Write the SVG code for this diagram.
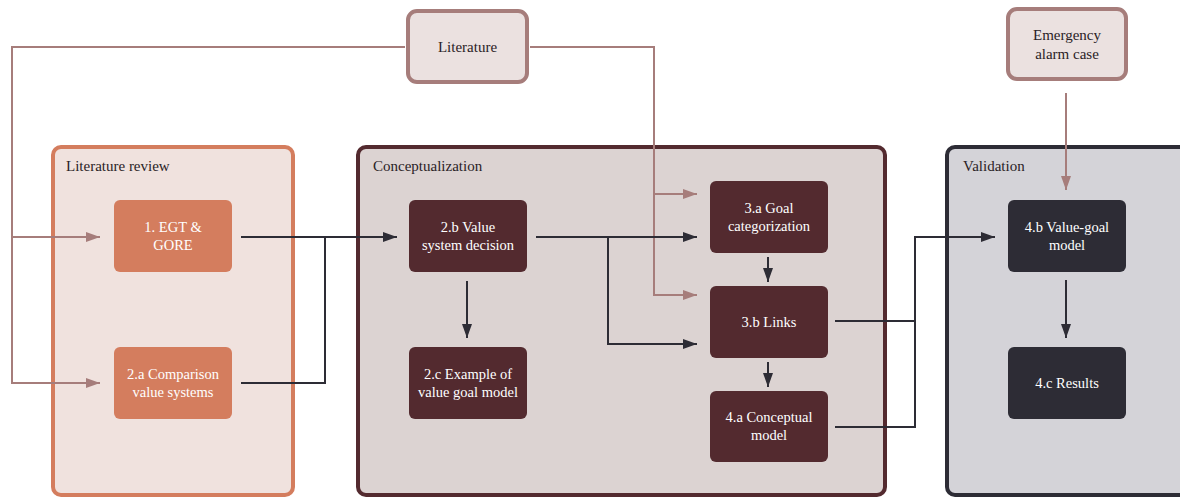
<svg xmlns="http://www.w3.org/2000/svg" width="1180" height="497" viewBox="0 0 1180 497">
  <style>
    .title { font-family: "Liberation Serif", serif; font-size: 15px; fill: #2a2226; }
    .srct { font-family: "Liberation Serif", serif; font-size: 15px; fill: #2a2226; text-anchor: middle; }
    .nt { font-family: "Liberation Serif", serif; font-size: 14.5px; fill: #ffffff; text-anchor: middle; }
    .src { fill: #ebe1e0; stroke: #a67d7b; stroke-width: 4; }
    .n1 { fill: #d47d5e; }
    .n2 { fill: #532a2f; }
    .n3 { fill: #2d2c35; }
    .pk { fill: none; stroke: #a67d7b; stroke-width: 2; }
    .dk { fill: none; stroke: #2d2c35; stroke-width: 2; }
  </style>
  <defs>
    <marker id="ap" markerUnits="userSpaceOnUse" markerWidth="14" markerHeight="10" refX="14" refY="5" orient="auto">
      <path d="M0,0 L14,5 L0,10 z" fill="#a67d7b"/>
    </marker>
    <marker id="ad" markerUnits="userSpaceOnUse" markerWidth="14" markerHeight="10" refX="14" refY="5" orient="auto">
      <path d="M0,0 L14,5 L0,10 z" fill="#2d2c35"/>
    </marker>
  </defs>

  <rect width="1180" height="497" fill="#ffffff"/>

  <!-- phase containers -->
  <g id="phase-literature-review">
    <rect x="53" y="147" width="240" height="348" rx="8" fill="#f0e2de" stroke="#d47d5e" stroke-width="4"/>
    <text class="title" x="66" y="171">Literature review</text>
  </g>
  <g id="phase-conceptualization">
    <rect x="358" y="147" width="527" height="348" rx="8" fill="#dcd3d2" stroke="#532a2f" stroke-width="4"/>
    <text class="title" x="373" y="171">Conceptualization</text>
  </g>
  <g id="phase-validation">
    <rect x="947" y="147" width="240" height="348" rx="8" fill="#d4d3d8" stroke="#2d2c35" stroke-width="4"/>
    <text class="title" x="963" y="171">Validation</text>
  </g>

  <!-- connectors -->
  <g id="connectors">
    <path class="pk" d="M405,47 H12 V383 H100" marker-end="url(#ap)"/>
    <path class="pk" d="M12,237 H100" marker-end="url(#ap)"/>
    <path class="pk" d="M530,47 H654 V295 H697" marker-end="url(#ap)"/>
    <path class="pk" d="M654,194 H697" marker-end="url(#ap)"/>
    <path class="pk" d="M1066,93 V190" marker-end="url(#ap)"/>

    <path class="dk" d="M241,237 H397" marker-end="url(#ad)"/>
    <path class="dk" d="M241,383 H325 V237"/>
    <path class="dk" d="M467,281 V338" marker-end="url(#ad)"/>
    <path class="dk" d="M536,237 H697" marker-end="url(#ad)"/>
    <path class="dk" d="M608,237 V344 H697" marker-end="url(#ad)"/>
    <path class="dk" d="M768,257 V282" marker-end="url(#ad)"/>
    <path class="dk" d="M768,362 V387" marker-end="url(#ad)"/>
    <path class="dk" d="M835,321 H915"/>
    <path class="dk" d="M835,427 H915 V237 H995" marker-end="url(#ad)"/>
    <path class="dk" d="M1066,280 V338" marker-end="url(#ad)"/>
  </g>

  <!-- sources -->
  <g id="literature">
    <rect class="src" x="408" y="11" width="119" height="71" rx="9"/>
    <text class="srct" x="467.5" y="52">Literature</text>
  </g>
  <g id="emergency-alarm-case">
    <rect class="src" x="1008" y="9" width="118" height="70" rx="9"/>
    <text class="srct" x="1067" y="40">Emergency</text>
    <text class="srct" x="1067" y="59">alarm case</text>
  </g>

  <!-- steps -->
  <g id="n1-egt-gore">
    <rect class="n1" x="114" y="200" width="118" height="72" rx="6"/>
    <text class="nt" x="173" y="232">1. EGT &amp;</text>
    <text class="nt" x="173" y="250">GORE</text>
  </g>
  <g id="n2a-comparison">
    <rect class="n1" x="114" y="347" width="118" height="72" rx="6"/>
    <text class="nt" x="173" y="379">2.a Comparison</text>
    <text class="nt" x="173" y="397">value systems</text>
  </g>
  <g id="n2b-value-system-decision">
    <rect class="n2" x="409" y="200" width="118" height="72" rx="6"/>
    <text class="nt" x="468" y="232">2.b Value</text>
    <text class="nt" x="468" y="250">system decision</text>
  </g>
  <g id="n2c-example">
    <rect class="n2" x="409" y="347" width="118" height="72" rx="6"/>
    <text class="nt" x="468" y="379">2.c Example of</text>
    <text class="nt" x="468" y="397">value goal model</text>
  </g>
  <g id="n3a-goal-categorization">
    <rect class="n2" x="710" y="181" width="118" height="72" rx="6"/>
    <text class="nt" x="769" y="213">3.a Goal</text>
    <text class="nt" x="769" y="231">categorization</text>
  </g>
  <g id="n3b-links">
    <rect class="n2" x="710" y="286" width="118" height="72" rx="6"/>
    <text class="nt" x="769" y="327">3.b Links</text>
  </g>
  <g id="n4a-conceptual-model">
    <rect class="n2" x="710" y="391" width="118" height="71" rx="6"/>
    <text class="nt" x="769" y="422">4.a Conceptual</text>
    <text class="nt" x="769" y="440">model</text>
  </g>
  <g id="n4b-value-goal-model">
    <rect class="n3" x="1008" y="200" width="118" height="72" rx="6"/>
    <text class="nt" x="1067" y="232">4.b Value-goal</text>
    <text class="nt" x="1067" y="250">model</text>
  </g>
  <g id="n4c-results">
    <rect class="n3" x="1008" y="347" width="118" height="72" rx="6"/>
    <text class="nt" x="1067" y="388">4.c Results</text>
  </g>
</svg>
